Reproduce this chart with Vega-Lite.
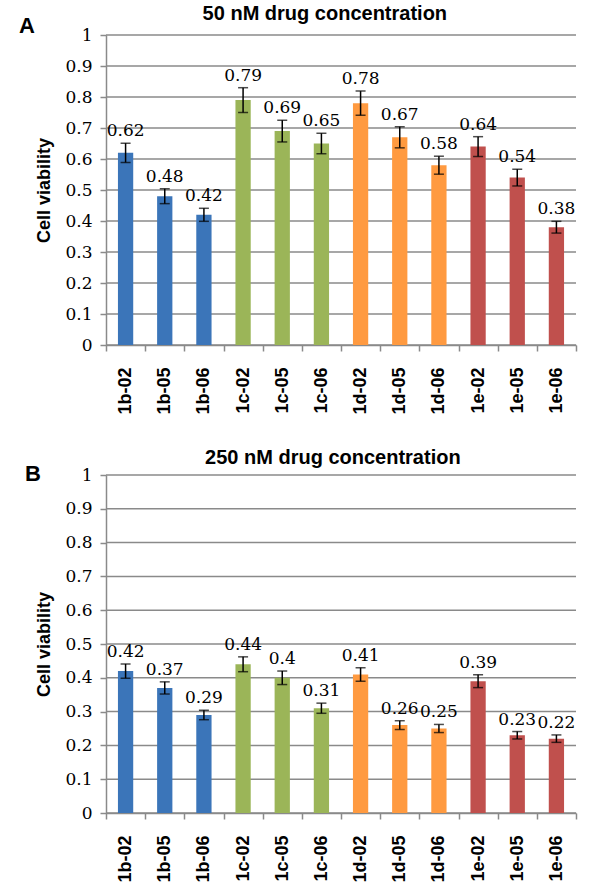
{
  "$schema": "https://vega.github.io/schema/vega-lite/v6.json",
  "padding": {"left": 18, "top": 4, "right": 5, "bottom": 0},
  "spacing": 33,
  "config": {
    "view": {"stroke": null},
    "font": "Liberation Sans",
    "axis": {"domainColor": "#8a8a8a", "domainWidth": 1.5, "tickColor": "#8a8a8a", "tickWidth": 1.5, "labelColor": "#000000", "titleColor": "#000000"},
    "axisY": {"labelFont": "DejaVu Serif", "labelFontSize": 17, "tickSize": 6, "labelPadding": 8, "titleFont": "Liberation Sans", "titleFontSize": 18, "titleFontWeight": "bold", "titlePadding": 11, "labelOverlap": false, "grid": false},
    "axisX": {"grid": false, "labelAngle": -90, "labelFont": "Liberation Sans", "labelFontWeight": "bold", "labelFontSize": 18, "labelPadding": 16, "tickSize": 6, "tickBand": "extent", "title": null, "labelOverlap": false},
    "title": {"color": "#000000", "font": "Liberation Sans", "fontWeight": "bold"}
  },
  "datasets": {
    "A": [
      {"sample": "1b-02", "group": "1b", "value": 0.62, "lo": 0.589, "hi": 0.651},
      {"sample": "1b-05", "group": "1b", "value": 0.48, "lo": 0.456, "hi": 0.504},
      {"sample": "1b-06", "group": "1b", "value": 0.42, "lo": 0.399, "hi": 0.441},
      {"sample": "1c-02", "group": "1c", "value": 0.79, "lo": 0.750, "hi": 0.830},
      {"sample": "1c-05", "group": "1c", "value": 0.69, "lo": 0.655, "hi": 0.725},
      {"sample": "1c-06", "group": "1c", "value": 0.65, "lo": 0.617, "hi": 0.683},
      {"sample": "1d-02", "group": "1d", "value": 0.78, "lo": 0.741, "hi": 0.819},
      {"sample": "1d-05", "group": "1d", "value": 0.67, "lo": 0.636, "hi": 0.704},
      {"sample": "1d-06", "group": "1d", "value": 0.58, "lo": 0.551, "hi": 0.609},
      {"sample": "1e-02", "group": "1e", "value": 0.64, "lo": 0.608, "hi": 0.672},
      {"sample": "1e-05", "group": "1e", "value": 0.54, "lo": 0.513, "hi": 0.567},
      {"sample": "1e-06", "group": "1e", "value": 0.38, "lo": 0.361, "hi": 0.399}
    ],
    "B": [
      {"sample": "1b-02", "group": "1b", "value": 0.42, "lo": 0.399, "hi": 0.441},
      {"sample": "1b-05", "group": "1b", "value": 0.37, "lo": 0.352, "hi": 0.388},
      {"sample": "1b-06", "group": "1b", "value": 0.29, "lo": 0.276, "hi": 0.304},
      {"sample": "1c-02", "group": "1c", "value": 0.44, "lo": 0.418, "hi": 0.462},
      {"sample": "1c-05", "group": "1c", "value": 0.40, "lo": 0.380, "hi": 0.420},
      {"sample": "1c-06", "group": "1c", "value": 0.31, "lo": 0.295, "hi": 0.325},
      {"sample": "1d-02", "group": "1d", "value": 0.41, "lo": 0.390, "hi": 0.430},
      {"sample": "1d-05", "group": "1d", "value": 0.26, "lo": 0.247, "hi": 0.273},
      {"sample": "1d-06", "group": "1d", "value": 0.25, "lo": 0.238, "hi": 0.262},
      {"sample": "1e-02", "group": "1e", "value": 0.39, "lo": 0.371, "hi": 0.409},
      {"sample": "1e-05", "group": "1e", "value": 0.23, "lo": 0.219, "hi": 0.241},
      {"sample": "1e-06", "group": "1e", "value": 0.22, "lo": 0.209, "hi": 0.231}
    ],
    "ticks": [
      {"t": 0}, {"t": 0.1}, {"t": 0.2}, {"t": 0.3}, {"t": 0.4}, {"t": 0.5}, {"t": 0.6}, {"t": 0.7}, {"t": 0.8}, {"t": 0.9}, {"t": 1}
    ]
  },
  "vconcat": [
    {
      "title": {"text": "50 nM drug concentration", "anchor": "middle", "fontSize": 20, "offset": -9, "dx": 27},
      "vconcat": [
        {
          "title": {"text": "A", "anchor": "start", "frame": "bounds", "fontSize": 22, "offset": -12, "dx": -17},
          "width": 470,
          "height": 310,
          "layer": [
            {
              "data": {"name": "ticks"},
              "mark": {"type": "rule", "color": "#8a8a8a", "strokeWidth": 1.5},
              "encoding": {
                "y": {"field": "t", "type": "quantitative", "title": "Cell viability", "scale": {"domain": [0, 1]}, "axis": {"values": [0, 0.1, 0.2, 0.3, 0.4, 0.5, 0.6, 0.7, 0.8, 0.9, 1], "format": ".1~f", "grid": false, "labelOverlap": false}}
              }
            },
            {
              "data": {"name": "A"},
              "mark": {"type": "bar", "width": {"band": 0.39}},
              "encoding": {
                "x": {"field": "sample", "type": "nominal", "sort": null, "scale": {"paddingInner": 0, "paddingOuter": 0}},
                "y": {"field": "value", "type": "quantitative", "title": "Cell viability", "axis": {"values": [0, 0.1, 0.2, 0.3, 0.4, 0.5, 0.6, 0.7, 0.8, 0.9, 1], "format": ".1~f", "grid": false, "labelOverlap": false}},
                "color": {"field": "group", "type": "nominal", "scale": {"domain": ["1b", "1c", "1d", "1e"], "range": ["#3B75B9", "#9BB558", "#FF9A40", "#C0504D"]}, "legend": null}
              }
            },
            {
              "data": {"name": "A"},
              "mark": {"type": "errorbar", "color": "#000000", "thickness": 1.5, "ticks": {"size": 10}},
              "encoding": {
                "x": {"field": "sample", "type": "nominal", "sort": null},
                "y": {"field": "lo", "type": "quantitative", "title": "Cell viability", "axis": {"values": [0, 0.1, 0.2, 0.3, 0.4, 0.5, 0.6, 0.7, 0.8, 0.9, 1], "format": ".1~f", "grid": false, "labelOverlap": false}},
                "y2": {"field": "hi"}
              }
            },
            {
              "data": {"name": "A"},
              "mark": {"type": "text", "baseline": "bottom", "dy": -3, "font": "DejaVu Serif", "fontSize": 17, "color": "#000000"},
              "encoding": {
                "x": {"field": "sample", "type": "nominal", "sort": null},
                "y": {"field": "hi", "type": "quantitative", "title": "Cell viability", "axis": {"values": [0, 0.1, 0.2, 0.3, 0.4, 0.5, 0.6, 0.7, 0.8, 0.9, 1], "format": ".1~f", "grid": false, "labelOverlap": false}},
                "text": {"field": "value", "type": "quantitative", "format": ".2~f"}
              }
            }
          ]
        }
      ]
    },
    {
      "title": {"text": "250 nM drug concentration", "anchor": "middle", "fontSize": 20, "offset": -5, "dx": 32},
      "vconcat": [
        {
          "title": {"text": "B", "anchor": "start", "frame": "bounds", "fontSize": 22, "offset": -20, "dx": -11},
          "width": 470,
          "height": 338,
          "layer": [
            {
              "data": {"name": "ticks"},
              "mark": {"type": "rule", "color": "#8a8a8a", "strokeWidth": 1.5},
              "encoding": {
                "y": {"field": "t", "type": "quantitative", "title": "Cell viability", "scale": {"domain": [0, 1]}, "axis": {"values": [0, 0.1, 0.2, 0.3, 0.4, 0.5, 0.6, 0.7, 0.8, 0.9, 1], "format": ".1~f", "grid": false, "labelOverlap": false}}
              }
            },
            {
              "data": {"name": "B"},
              "mark": {"type": "bar", "width": {"band": 0.39}},
              "encoding": {
                "x": {"field": "sample", "type": "nominal", "sort": null, "scale": {"paddingInner": 0, "paddingOuter": 0}},
                "y": {"field": "value", "type": "quantitative", "title": "Cell viability", "axis": {"values": [0, 0.1, 0.2, 0.3, 0.4, 0.5, 0.6, 0.7, 0.8, 0.9, 1], "format": ".1~f", "grid": false, "labelOverlap": false}},
                "color": {"field": "group", "type": "nominal", "scale": {"domain": ["1b", "1c", "1d", "1e"], "range": ["#3B75B9", "#9BB558", "#FF9A40", "#C0504D"]}, "legend": null}
              }
            },
            {
              "data": {"name": "B"},
              "mark": {"type": "errorbar", "color": "#000000", "thickness": 1.5, "ticks": {"size": 10}},
              "encoding": {
                "x": {"field": "sample", "type": "nominal", "sort": null},
                "y": {"field": "lo", "type": "quantitative", "title": "Cell viability", "axis": {"values": [0, 0.1, 0.2, 0.3, 0.4, 0.5, 0.6, 0.7, 0.8, 0.9, 1], "format": ".1~f", "grid": false, "labelOverlap": false}},
                "y2": {"field": "hi"}
              }
            },
            {
              "data": {"name": "B"},
              "mark": {"type": "text", "baseline": "bottom", "dy": -3, "font": "DejaVu Serif", "fontSize": 17, "color": "#000000"},
              "encoding": {
                "x": {"field": "sample", "type": "nominal", "sort": null},
                "y": {"field": "hi", "type": "quantitative", "title": "Cell viability", "axis": {"values": [0, 0.1, 0.2, 0.3, 0.4, 0.5, 0.6, 0.7, 0.8, 0.9, 1], "format": ".1~f", "grid": false, "labelOverlap": false}},
                "text": {"field": "value", "type": "quantitative", "format": ".2~f"}
              }
            }
          ]
        }
      ]
    }
  ]
}
